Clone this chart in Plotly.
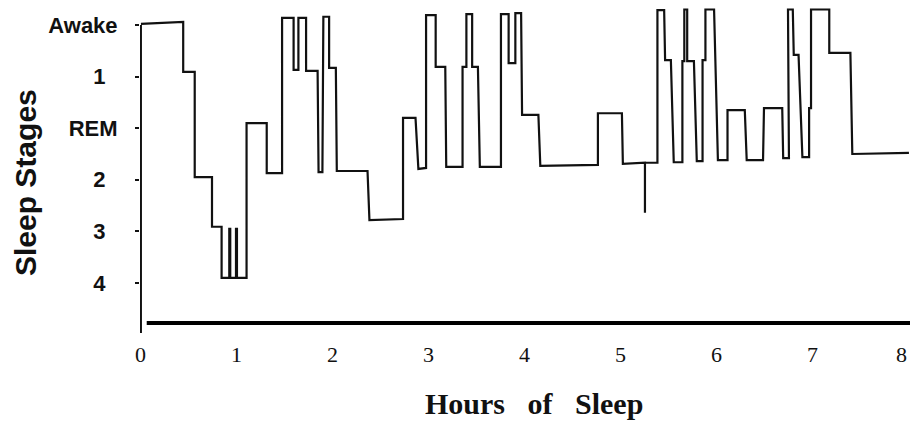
import plotly.graph_objects as go

# Hypnogram (hours of sleep vs. stage level;
# stage level 0 = Awake, 1 = stage 1, 2 = REM, 3 = stage 2, 4 = stage 3, 5 = stage 4)
hours = [
    0.00, 0.44, 0.44, 0.56, 0.56, 0.74, 0.74, 0.84, 0.84,
    0.92, 0.92, 0.93, 0.93, 0.99, 0.99, 1.00, 1.00, 1.10,
    1.10, 1.31, 1.31, 1.47, 1.47, 1.59, 1.59, 1.64, 1.64, 1.72,
    1.72, 1.84, 1.85, 1.89, 1.90, 1.96, 1.96, 2.03, 2.04, 2.36,
    2.38, 2.73, 2.73, 2.86, 2.89, 2.97, 2.97, 3.07, 3.07, 3.17,
    3.18, 3.35, 3.35, 3.39, 3.39, 3.45, 3.45, 3.51, 3.53, 3.75,
    3.75, 3.83, 3.83, 3.90, 3.90, 3.96, 3.97, 4.14, 4.16, 4.76,
    4.76, 5.01, 5.02, 5.25, 5.25, 5.25, 5.38, 5.38, 5.45, 5.46,
    5.52, 5.55, 5.64, 5.64, 5.66, 5.66, 5.69, 5.69, 5.76, 5.79,
    5.85, 5.85, 5.88, 5.88, 5.97, 6.01, 6.11, 6.11, 6.29, 6.31,
    6.48, 6.49, 6.68, 6.69, 6.75, 6.74, 6.79, 6.80, 6.85, 6.89,
    6.96, 6.96, 6.98, 6.98, 7.17, 7.17, 7.39, 7.41, 8.00,
]
stage_level = [
    -0.02, -0.06, 0.91, 0.91, 2.95, 2.95, 3.91, 3.91, 4.90,
    4.90, 3.95, 3.95, 4.90, 4.90, 3.95, 3.95, 4.90, 4.90,
    1.90, 1.90, 2.87, 2.87, -0.14, -0.14, 0.87, 0.87, -0.14, -0.14,
    0.89, 0.89, 2.85, 2.85, -0.16, -0.16, 0.83, 0.83, 2.83, 2.83,
    3.78, 3.76, 1.80, 1.80, 2.79, 2.77, -0.19, -0.19, 0.81, 0.81,
    2.75, 2.75, 0.81, 0.81, -0.21, -0.21, 0.81, 0.81, 2.75, 2.75,
    -0.21, -0.21, 0.74, 0.74, -0.23, -0.23, 1.74, 1.74, 2.73, 2.71,
    1.71, 1.71, 2.69, 2.67, 3.64, 2.67, 2.67, -0.29, -0.29, 0.68,
    0.68, 2.66, 2.66, 0.70, 0.70, -0.30, -0.30, 0.70, 0.70, 2.64,
    2.64, 0.68, 0.68, -0.30, -0.30, 2.62, 2.62, 1.65, 1.65, 2.62,
    2.62, 1.61, 1.61, 2.58, 2.58, -0.30, -0.30, 0.58, 0.58, 2.56,
    2.56, 1.61, 1.61, -0.30, -0.30, 0.54, 0.54, 2.50, 2.48,
]

stage_ticks = [0, 1, 2, 3, 4, 5]
stage_labels = ["Awake", "1", "REM", "2", "3", "4"]
hour_ticks = [0, 1, 2, 3, 4, 5, 6, 7, 8]
hour_labels = ["0", "1", "2", "3", "4", "5", "6", "7", "8"]

NB = "\u00a0"
ytext = [lab if len(lab) > 1 else lab + NB * 2 for lab in stage_labels]

fig = go.Figure()
fig.add_trace(go.Scatter(
    x=hours, y=stage_level, mode="lines",
    line=dict(color="#111111", width=2.2),
    hoverinfo="skip", showlegend=False,
))

# axis lines as drawn in the scan
fig.add_shape(type="line", xref="x", yref="y", x0=0, x1=0,
              y0=stage_ticks[0], y1=5.97, line=dict(color="#111111", width=2))
fig.add_shape(type="line", xref="x", yref="y", x0=0.06, x1=8.03,
              y0=5.775, y1=5.775, line=dict(color="#000000", width=4))

PW, PH = 770.0, 332.0  # plot-area size in px

# x tick labels (the last one is kept inside the page edge)
xlabels = []
for i, (val, lab) in enumerate(zip(hour_ticks, hour_labels)):
    last = i == len(hour_ticks) - 1
    xlabels.append(dict(
        text=lab, xref="x", yref="paper", x=val, y=(340 - 355) / PH,
        xanchor="right" if last else "center", yanchor="middle",
        xshift=0, showarrow=False,
        font=dict(family="Liberation Serif", size=22, color="#111111"),
    ))

fig.update_layout(
    width=902, height=412,
    margin=dict(l=132, r=0, t=0, b=80),
    paper_bgcolor="white", plot_bgcolor="white",
    showlegend=False,
    xaxis=dict(
        range=[-0.01, 8.011], tickmode="array", tickvals=hour_ticks,
        showticklabels=False,
        showgrid=False, zeroline=False, showline=False, ticks="",
        automargin=False,
    ),
    yaxis=dict(
        range=[6.105, -0.3295], tickmode="array",
        tickvals=stage_ticks, ticktext=ytext,
        tickfont=dict(family="Liberation Sans", size=22, color="#111111", weight="bold"),
        showgrid=False, zeroline=False, showline=False,
        ticks="outside", ticklen=4, tickcolor="#111111", tickwidth=1.5,
        ticklabelstandoff=13, automargin=False, ticklabeloverflow="allow",
    ),
    annotations=xlabels + [
        dict(text="Hours" + NB * 2 + " of" + NB * 2 + " Sleep", xref="paper", yref="paper",
             x=(534 - 140) / PW, y=(340 - 403) / PH, xanchor="center", yanchor="middle",
             showarrow=False,
             font=dict(family="Liberation Serif", size=30, color="#111111", weight="bold")),
        dict(text="Sleep Stages", xref="paper", yref="paper",
             x=(25 - 140) / PW, y=(340 - 183) / PH, xanchor="center", yanchor="middle",
             showarrow=False, textangle=-90,
             font=dict(family="Liberation Sans", size=30, color="#111111", weight="bold")),
    ],
)

fig.write_html("out.html")
